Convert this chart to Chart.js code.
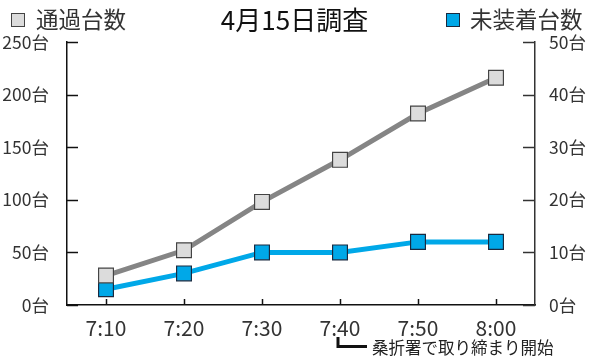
<!DOCTYPE html>
<html>
<head>
<meta charset="utf-8">
<script src="https://cdn.jsdelivr.net/npm/chart.js@4/dist/chart.umd.min.js"></script>
<style>
  html, body { margin: 0; padding: 0; background: #fff; }
  #wrap { position: relative; width: 589px; height: 360px; }
</style>
</head>
<body>
<div id="wrap"><canvas id="chart" width="589" height="360"></canvas></div>
<script>
const FONT = '"Noto Sans CJK JP", "Noto Sans", sans-serif';

// data
const times = ['7:10', '7:20', '7:30', '7:40', '7:50', '8:00'];
const passed = [28, 52, 98, 138, 182, 216];      // 通過台数 (left axis)
const noChains = [3, 6, 10, 10, 12, 12];         // 未装着台数 (right axis)
const leftTicks = [0, 50, 100, 150, 200, 250];
const rightTicks = [0, 10, 20, 30, 40, 50];

// inward tick marks, legend boxes and the annotation
const extras = {
  id: 'extras',
  afterDraw(chart) {
    const ctx = chart.ctx;
    const { left, right, bottom } = chart.chartArea;
    const yl = chart.scales.y, yr = chart.scales.y2, x = chart.scales.x;
    ctx.save();
    ctx.lineWidth = 1.5;
    ctx.strokeStyle = '#111';
    leftTicks.forEach(v => {
      const py = Math.round(yl.getPixelForValue(v)) + 0.5;
      ctx.beginPath(); ctx.moveTo(left, py); ctx.lineTo(left + 11, py); ctx.stroke();
    });
    ctx.strokeStyle = '#333';
    rightTicks.forEach(v => {
      const py = Math.round(yr.getPixelForValue(v)) + 0.5;
      ctx.beginPath(); ctx.moveTo(right, py); ctx.lineTo(right - 12, py); ctx.stroke();
    });
    ctx.strokeStyle = '#111';
    times.forEach((t, i) => {
      const px = Math.round(x.getPixelForValue(i)) + 0.5;
      ctx.beginPath(); ctx.moveTo(px, bottom); ctx.lineTo(px, bottom - 6); ctx.stroke();
    });

    // legend
    ctx.lineWidth = 1;
    ctx.fillStyle = '#dcdcdc'; ctx.strokeStyle = '#444';
    ctx.fillRect(11.5, 13.5, 13, 13); ctx.strokeRect(11.5, 13.5, 13, 13);
    ctx.fillStyle = '#00a8e8'; ctx.strokeStyle = '#1a2a40';
    ctx.fillRect(446.5, 13.5, 13, 13); ctx.strokeRect(446.5, 13.5, 13, 13);
    ctx.fillStyle = '#333';
    ctx.font = '22.5px ' + FONT;
    ctx.textBaseline = 'middle';
    ctx.textAlign = 'left';
    ctx.fillText('通過台数', 36, 19);
    ctx.fillText('未装着台数', 470, 19);

    // annotation
    ctx.lineWidth = 3;
    ctx.strokeStyle = '#111';
    ctx.beginPath();
    ctx.moveTo(338, 337); ctx.lineTo(338, 346.5); ctx.lineTo(367, 346.5);
    ctx.stroke();
    ctx.font = '16.5px ' + FONT;
    ctx.fillStyle = '#222';
    ctx.fillText('桑折署で取り締まり開始', 372, 348);
    ctx.restore();
  }
};

new Chart(document.getElementById('chart'), {
  type: 'line',
  data: {
    labels: times,
    datasets: [
      {
        label: '通過台数',
        data: passed,
        yAxisID: 'y',
        borderColor: '#858585',
        borderWidth: 5,
        pointStyle: 'rect',
        pointRadius: 10.5,
        pointBackgroundColor: '#dcdcdc',
        pointBorderColor: '#444',
        pointBorderWidth: 1.2,
        tension: 0
      },
      {
        label: '未装着台数',
        data: noChains,
        yAxisID: 'y2',
        borderColor: '#00a8e8',
        borderWidth: 5,
        pointStyle: 'rect',
        pointRadius: 10.5,
        pointBackgroundColor: '#00a8e8',
        pointBorderColor: '#1a2a40',
        pointBorderWidth: 1.2,
        tension: 0
      }
    ]
  },
  options: {
    responsive: false,
    animation: false,
    events: [],
    layout: { padding: 0 },
    plugins: {
      legend: { display: false },
      tooltip: { enabled: false },
      title: {
        display: true,
        text: '4月15日調査',
        color: '#111',
        font: { family: FONT, size: 26, weight: 'normal', lineHeight: 1.2 },
        padding: { top: 5, bottom: 5.8 }
      }
    },
    scales: {
      x: {
        offset: true,
        grid: { display: false },
        border: { display: true, color: '#111', width: 1.5 },
        ticks: { color: '#333', font: { family: FONT, size: 21 }, padding: 2, maxRotation: 0 },
        afterFit(s) { s.height = 55; }
      },
      y: {
        position: 'left',
        min: 0, max: 250,
        grid: { display: false },
        border: { display: true, color: '#111', width: 1.5 },
        afterBuildTicks(s) { s.ticks = leftTicks.map(v => ({ value: v })); },
        ticks: {
          color: '#333', padding: 10,
          font: { family: FONT, size: 17.5 },
          callback: v => v + '台'
        },
        afterFit(s) { s.width = 67; }
      },
      y2: {
        position: 'right',
        min: 0, max: 50,
        grid: { display: false },
        border: { display: true, color: '#333', width: 1.5 },
        afterBuildTicks(s) { s.ticks = rightTicks.map(v => ({ value: v })); },
        ticks: {
          color: '#333', padding: 6,
          font: { family: FONT, size: 17.5 },
          callback: v => v + '台'
        },
        afterFit(s) { s.width = 54; }
      }
    }
  },
  plugins: [extras]
});
</script>
</body>
</html>
